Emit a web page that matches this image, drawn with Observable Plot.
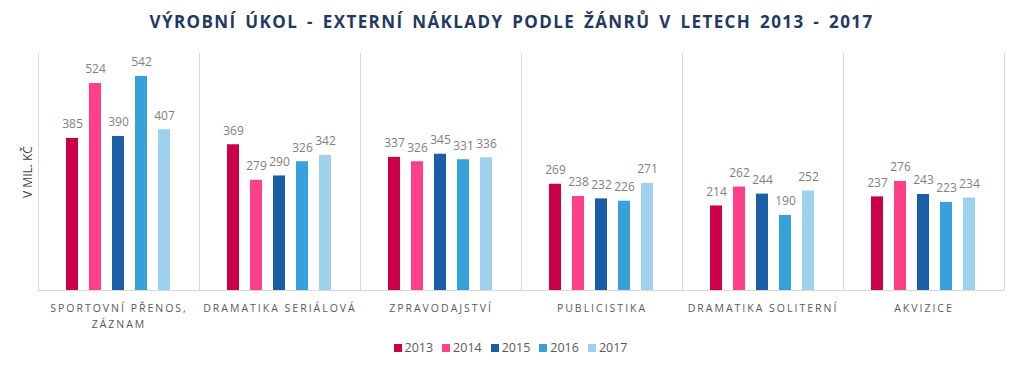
<!DOCTYPE html>
<html>
<head>
<meta charset="utf-8">
<script src="https://cdn.jsdelivr.net/npm/d3@7"></script>
<script src="https://cdn.jsdelivr.net/npm/@observablehq/plot@0.6"></script>
<style>
  html, body { margin: 0; padding: 0; background: #fff; }
  body { width: 1023px; height: 368px; position: relative; overflow: hidden; font-family: "Open Sans", sans-serif; }
  #title { position: absolute; left: 0; top: 10px; width: 1023px; text-align: center; font-family: "Open Sans", sans-serif; font-weight: 700; font-size: 17px; letter-spacing: 1.4px; word-spacing: 3px; color: #1f3864; line-height: 24px; }
  #chart { position: absolute; left: 0; top: 40px; }
  #ylabel { position: absolute; left: 27px; top: 172px; transform: translate(-50%, -50%) rotate(-90deg); font-size: 12px; font-weight: 400; color: #404040; white-space: nowrap; }
  #legend { position: absolute; left: 0; top: 339px; width: 1030px; display: flex; justify-content: center; font-size: 12.5px; color: #595959; }
  .item { display: flex; align-items: center; margin-right: 9px; }
  .sw { width: 8px; height: 8px; margin-right: 3px; }
  svg g[aria-label="fx-axis tick label"] { letter-spacing: 2px; }
</style>
</head>
<body>
<div id="title"></div>
<div id="chart"></div>
<div id="ylabel"></div>
<div id="legend"></div>
<script>
const title = "VÝROBNÍ ÚKOL - EXTERNÍ NÁKLADY PODLE ŽÁNRŮ V LETECH 2013 - 2017";
const yLabel = "V MIL. KČ";
const categories = ["SPORTOVNÍ PŘENOS, ZÁZNAM", "DRAMATIKA SERIÁLOVÁ", "ZPRAVODAJSTVÍ", "PUBLICISTIKA", "DRAMATIKA SOLITERNÍ", "AKVIZICE"];
const years = ["2013", "2014", "2015", "2016", "2017"];
const colors = ["#cc0048", "#ff4088", "#1a5ea8", "#35a2dc", "#9ed1ee"];
const v2013 = [385, 369, 337, 269, 214, 237];
const v2014 = [524, 279, 326, 238, 262, 276];
const v2015 = [390, 290, 345, 232, 244, 243];
const v2016 = [542, 326, 331, 226, 190, 223];
const v2017 = [407, 342, 336, 271, 252, 234];

const series = [v2013, v2014, v2015, v2016, v2017];
const data = [];
categories.forEach((c, i) => years.forEach((y, j) => data.push({category: c, year: y, value: series[j][i]})));

document.getElementById("title").textContent = title;
document.getElementById("ylabel").textContent = yLabel;

const chart = Plot.plot({
  width: 1023,
  height: 295,
  marginLeft: 36,
  marginRight: 17,
  marginTop: 13,
  marginBottom: 45,
  style: {fontFamily: "Open Sans, sans-serif", background: "transparent"},
  fx: {domain: categories, padding: 0, label: null},
  x: {domain: years, paddingInner: 0.47, paddingOuter: 1.18, axis: null},
  y: {domain: [0, 600], axis: null},
  color: {domain: years, range: colors},
  marks: [
    Plot.frame({anchor: "left", stroke: "#d9d9d9", strokeOpacity: 1}),
    Plot.frame({anchor: "right", stroke: "#d9d9d9", strokeOpacity: 1}),
    Plot.barY(data, {fx: "category", x: "year", y: "value", fill: "year"}),
    Plot.ruleY([0], {stroke: "#d9d9d9"}),
    Plot.text(data, {fx: "category", x: "year", y: "value", text: d => String(d.value), dy: -14, fill: "#7f7f7f", fontSize: 12}),
    Plot.axisFx({anchor: "bottom", tickSize: 0, tickPadding: 11, fontSize: 10.5, lineHeight: 1.45, fill: "#595959",
      tickFormat: d => d.replace(", ", ",\n"), label: null})
  ]
});
document.getElementById("chart").appendChild(chart);

const lg = document.getElementById("legend");
years.forEach((y, i) => {
  const it = document.createElement("div");
  it.className = "item";
  const sw = document.createElement("div");
  sw.className = "sw";
  sw.style.background = colors[i];
  const t = document.createElement("span");
  t.textContent = y;
  it.appendChild(sw); it.appendChild(t);
  lg.appendChild(it);
});
</script>
</body>
</html>
